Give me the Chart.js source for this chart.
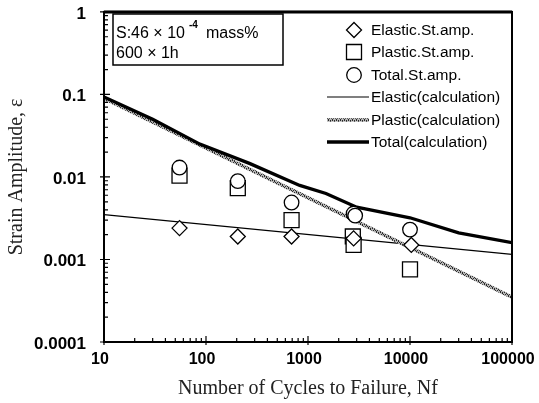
<!DOCTYPE html>
<html>
<head>
<meta charset="utf-8">
<script src="https://cdn.jsdelivr.net/npm/chart.js@4/dist/chart.umd.min.js"></script>
<style>
  html, body { margin: 0; padding: 0; background: #fff; }
  canvas { display: block; }
</style>
</head>
<body>
<canvas id="grafico" width="539" height="403"></canvas>
<script>
// ejes
const xTicks = [10, 100, 1000, 10000, 100000]
const xTickLabels = ["10", "100", "1000", "10000", "100000"]
const yTicks = [0.0001, 0.001, 0.01, 0.1, 1]
const yTickLabels = ["0.0001", "0.001", "0.01", "0.1", "1"]

// puntos medidos
const elasticN = [55, 205, 690, 2800, 10300]
const elasticAmp = [0.0024, 0.0019, 0.0019, 0.0018, 0.0015]
const plasticN = [55, 205, 690, 2750, 2800, 10000]
const plasticAmp = [0.0104, 0.0073, 0.0030, 0.0019, 0.0015, 0.00076]
const totalN = [55, 205, 690, 2800, 2900, 10000]
const totalAmp = [0.013, 0.0089, 0.0049, 0.0036, 0.0034, 0.0023]

// curvas calculadas
const elasticCalcN = [10, 100000]
const elasticCalcAmp = [0.0035, 0.00115]
const plasticCalcN = [10, 100000]
const plasticCalcAmp = [0.09, 0.00035]
const totalCalcN = [10, 30, 87, 270, 830, 1500, 3000, 10000, 30000, 100000]
const totalCalcAmp = [0.093, 0.05, 0.025, 0.0145, 0.0079, 0.0063, 0.0043, 0.0032, 0.0021, 0.0016]

const leyenda = ["Elastic.St.amp.", "Plastic.St.amp.", "Total.St.amp.",
  "Elastic(calculation)", "Plastic(calculation)", "Total(calculation)"]

const pares = (xs, ys) => xs.map((x, i) => ({ x: x, y: ys[i] }))

// textura gris para la curva plastica
function texturaGris() {
  const c = document.createElement("canvas")
  c.width = 4
  c.height = 4
  const g = c.getContext("2d")
  g.fillStyle = "#b4b4b4"
  g.fillRect(0, 0, 4, 4)
  g.fillStyle = "#2a2a2a"
  for (let i = 0; i < 4; i++) g.fillRect(i, (i * 2) % 4, 1, 1)
  g.fillRect(0, 3, 1, 1)
  g.fillRect(2, 1, 1, 1)
  return g.createPattern(c, "repeat")
}
const patronGris = texturaGris()

function marcador(ctx, tipo, x, y) {
  ctx.save()
  ctx.lineWidth = 1.3
  ctx.strokeStyle = "#000"
  ctx.fillStyle = "#fff"
  ctx.beginPath()
  if (tipo === "diamond") {
    ctx.moveTo(x, y - 7.5)
    ctx.lineTo(x + 7.5, y)
    ctx.lineTo(x, y + 7.5)
    ctx.lineTo(x - 7.5, y)
    ctx.closePath()
  } else if (tipo === "square") {
    ctx.rect(x - 7.5, y - 7.5, 15, 15)
  } else {
    ctx.arc(x, y, 7.3, 0, Math.PI * 2)
  }
  ctx.fill()
  ctx.stroke()
  ctx.restore()
}

const marcoPlugin = {
  id: "marco",
  afterDraw(chart) {
    const { ctx, chartArea, scales } = chart
    const { left, right, top, bottom } = chartArea
    ctx.save()
    ctx.strokeStyle = "#000"

    // marcas menores y mayores en X
    ctx.lineWidth = 1.2
    ctx.beginPath()
    for (let d = 10; d < 100000; d *= 10) {
      for (let m = 2; m <= 9; m++) {
        const px = scales.x.getPixelForValue(d * m)
        ctx.moveTo(px, bottom)
        ctx.lineTo(px, bottom - 4)
      }
    }
    xTicks.forEach(v => {
      const px = scales.x.getPixelForValue(v)
      ctx.moveTo(px, bottom + 3)
      ctx.lineTo(px, bottom - 6)
    })
    // marcas en Y
    for (let d = 0.0001; d < 0.9; d *= 10) {
      for (let m = 2; m <= 9; m++) {
        const py = scales.y.getPixelForValue(d * m)
        ctx.moveTo(left, py)
        ctx.lineTo(left + 4, py)
      }
    }
    yTicks.forEach(v => {
      const py = scales.y.getPixelForValue(v)
      ctx.moveTo(left - 4, py)
      ctx.lineTo(left + 6, py)
    })
    ctx.stroke()

    // marco
    ctx.lineWidth = 2
    ctx.strokeRect(left, top, right - left, bottom - top)
    ctx.lineWidth = 3
    ctx.beginPath()
    ctx.moveTo(left, top)
    ctx.lineTo(right, top)
    ctx.stroke()

    // cuadro de condiciones
    ctx.lineWidth = 1.5
    ctx.strokeRect(113, 14, 170, 51)
    ctx.fillStyle = "#000"
    ctx.textBaseline = "alphabetic"
    ctx.font = "16px 'Liberation Sans', Arial, sans-serif"
    ctx.fillText("S:46 \u00d7 10", 116, 38)
    ctx.font = "bold 10px 'Liberation Sans', Arial, sans-serif"
    ctx.fillText("-4", 189, 28)
    ctx.font = "16px 'Liberation Sans', Arial, sans-serif"
    ctx.fillText("mass%", 206, 38)
    ctx.fillText("600 \u00d7 1h", 116, 58)

    // leyenda
    const filas = [30, 52, 75, 97, 120, 142]
    const tipos = ["diamond", "square", "circle"]
    ctx.font = "15.5px 'Liberation Sans', Arial, sans-serif"
    ctx.textBaseline = "middle"
    leyenda.forEach((txt, i) => {
      const y = filas[i]
      if (i < 3) {
        marcador(ctx, tipos[i], 354, y)
      } else {
        ctx.beginPath()
        ctx.moveTo(327, y)
        ctx.lineTo(369, y)
        ctx.lineWidth = i === 3 ? 1.2 : 3.5
        ctx.strokeStyle = i === 4 ? patronGris : "#000"
        ctx.stroke()
      }
      ctx.fillStyle = "#000"
      ctx.fillText(txt, 371, y + 1)
    })
    ctx.restore()
  }
}

const puntoBase = {
  showLine: false,
  pointBackgroundColor: "#fff",
  pointBorderColor: "#000",
  pointBorderWidth: 1.3,
  pointHoverRadius: 0
}

const sinRelleno = (scale) => {
  scale.paddingTop = 0
  scale.paddingBottom = 0
  scale.paddingLeft = 0
  scale.paddingRight = 0
}

const config = {
  type: "scatter",
  data: {
    datasets: [
      Object.assign({ label: leyenda[2], data: pares(totalN, totalAmp), pointStyle: "circle", pointRadius: 7.3 }, puntoBase),
      Object.assign({ label: leyenda[0], data: pares(elasticN, elasticAmp), pointStyle: "rectRot", pointRadius: 7.5 }, puntoBase),
      Object.assign({ label: leyenda[1], data: pares(plasticN, plasticAmp), pointStyle: "rect", pointRadius: 10.6 }, puntoBase),
      {
        label: leyenda[5], data: pares(totalCalcN, totalCalcAmp), showLine: true,
        borderColor: "#000", borderWidth: 3.3, pointRadius: 0, tension: 0
      },
      {
        label: leyenda[4], data: pares(plasticCalcN, plasticCalcAmp), showLine: true,
        borderColor: patronGris, borderWidth: 3.5, pointRadius: 0, tension: 0
      },
      {
        label: leyenda[3], data: pares(elasticCalcN, elasticCalcAmp), showLine: true,
        borderColor: "#000", borderWidth: 1.2, pointRadius: 0, tension: 0
      }
    ]
  },
  options: {
    responsive: false,
    animation: false,
    devicePixelRatio: 1,
    layout: { padding: { left: 0, right: 27, top: 10, bottom: 0 } },
    plugins: { legend: { display: false }, tooltip: { enabled: false } },
    scales: {
      x: {
        type: "logarithmic",
        min: 10,
        max: 100000,
        afterBuildTicks: (scale) => { scale.ticks = xTicks.map(v => ({ value: v })) },
        afterFit: (scale) => { scale.height = 61; sinRelleno(scale) },
        grid: { display: false, drawTicks: false },
        border: { display: false },
        ticks: {
          autoSkip: false,
          maxRotation: 0,
          padding: 8,
          labelOffset: -4,
          color: "#000",
          font: { family: "'Liberation Sans', Arial, sans-serif", size: 16, weight: "bold" },
          callback: (v) => xTickLabels[xTicks.indexOf(v)] ?? ""
        },
        title: {
          display: true,
          text: "Number of Cycles to Failure, Nf",
          color: "#222",
          padding: { top: 0, bottom: 2 },
          font: { family: "'Liberation Serif', 'Times New Roman', serif", size: 20, weight: "normal" }
        }
      },
      y: {
        type: "logarithmic",
        min: 0.0001,
        max: 1,
        afterBuildTicks: (scale) => { scale.ticks = yTicks.map(v => ({ value: v })) },
        afterFit: (scale) => { scale.width = 104; sinRelleno(scale) },
        grid: { display: false, drawTicks: false },
        border: { display: false },
        ticks: {
          autoSkip: false,
          padding: 18,
          labelOffset: 2,
          color: "#000",
          font: { family: "'Liberation Sans', Arial, sans-serif", size: 17, weight: "bold" },
          callback: (v) => yTickLabels[yTicks.indexOf(v)] ?? ""
        },
        title: {
          display: true,
          text: "Strain Amplitude, \u03b5",
          color: "#222",
          padding: { top: 5, bottom: 0 },
          font: { family: "'Liberation Serif', 'Times New Roman', serif", size: 20, weight: "normal" }
        }
      }
    }
  },
  plugins: [marcoPlugin]
}

const canva = document.getElementById("grafico").getContext("2d")
window.miGrafico = new Chart(canva, config)
</script>
</body>
</html>
